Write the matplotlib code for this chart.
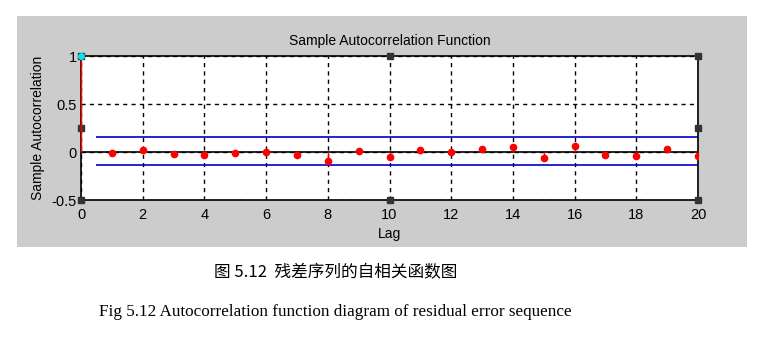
import matplotlib
matplotlib.use("Agg")
import matplotlib.pyplot as plt
from matplotlib.patches import Rectangle
import numpy as np

# sample autocorrelation of residuals, lags 0..20
lags = np.arange(0, 21)
acf = [1.0, -0.010, 0.020, -0.024, -0.034, -0.010, 0.003, -0.030, -0.090, 0.007,
       -0.050, 0.017, 0.003, 0.028, 0.049, -0.066, 0.062, -0.028, -0.042, 0.028, -0.038]
bound_up = 0.155
bound_lo = -0.135

fig = plt.figure(figsize=(7.63, 3.37), dpi=100)
fig.patches.append(Rectangle((0.0223, 0.267), 0.9567, 0.6855, transform=fig.transFigure,
                             facecolor="#cccccc", edgecolor="none", zorder=-1))

ax = fig.add_axes([0.1062, 0.4065, 0.8086, 0.4273])
ax.set_facecolor("white")

# selection handles (figure in edit mode)
hx = [0, 0.5, 1, 0, 1, 0, 0.5, 1]
hy = [1, 1, 1, 0.5, 0.5, 0, 0, 0]
ax.plot(hx, hy, "s", color="#333333", ms=5, transform=ax.transAxes, clip_on=False, zorder=6)

# stems and markers
ax.vlines(lags, 0, acf, colors="red", lw=1, zorder=7, clip_on=False)
ax.plot(lags[1:], acf[1:], "o", color="red", ms=4.5, mec="red", zorder=4)
ax.plot(lags[0], acf[0], "o", color="#00e5ee", ms=4, zorder=8, clip_on=False)
ax.axhline(0, color="black", lw=1.2, zorder=2)
ax.hlines([bound_up, bound_lo], 0.5, 20, colors="#0000cc", lw=1.2, zorder=2)

ax.set_xlim(0, 20)
ax.set_ylim(-0.5, 1)
ax.set_xticks(np.arange(0, 21, 2))
ax.set_yticks([-0.5, 0, 0.5, 1])
ax.set_yticklabels(["-0.5", "0", "0.5", "1"])
ax.grid(True, color="black", ls=(0, (3, 3)), lw=1)
ax.tick_params(direction="in", length=0, labelsize=10.5)
ax.tick_params(axis="x", pad=6)
ax.tick_params(axis="y", pad=3)
for lab in ax.get_xticklabels() + ax.get_yticklabels():
    lab.set_family("Liberation Sans")
for s in ax.spines.values():
    s.set_linewidth(1.2)

ax.set_title("Sample Autocorrelation Function", family="Liberation Sans", fontsize=10, pad=8)
ax.set_xlabel("Lag", family="Liberation Sans", fontsize=10, labelpad=3)
ax.set_ylabel("Sample Autocorrelation", family="Liberation Sans", fontsize=10, labelpad=5)

fig.text(0.44, 0.19, "图 5.12  残差序列的自相关函数图", ha="center", va="center",
         family=["Noto Sans CJK SC", "DejaVu Sans"], fontsize=12)
fig.text(0.44, 0.074, "Fig 5.12 Autocorrelation function diagram of residual error sequence",
         ha="center", va="center", family="Liberation Serif", fontsize=12.3)

fig.savefig("out.png", dpi=100)
